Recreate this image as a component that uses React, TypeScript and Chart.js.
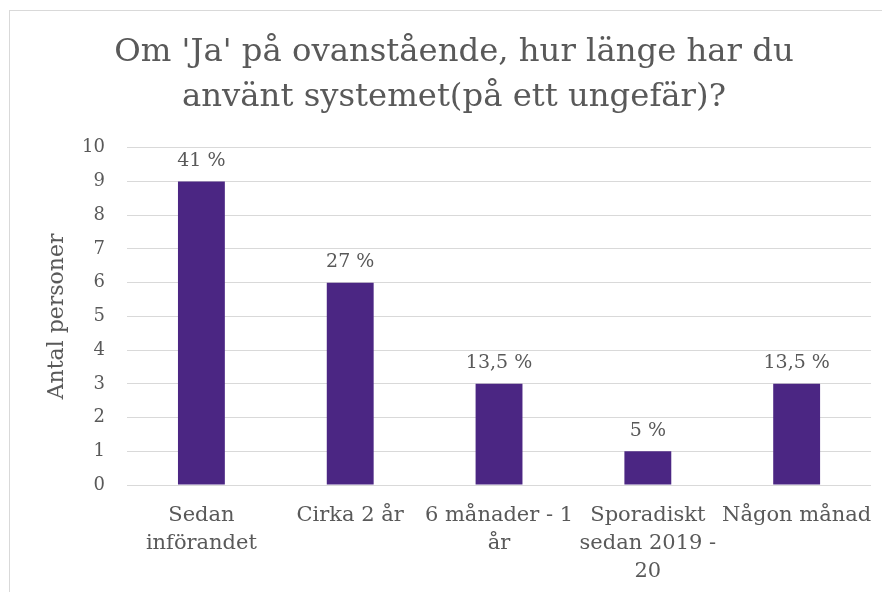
import React, { useEffect, useRef } from "react";
import { Chart, registerables } from "chart.js";

Chart.register(...registerables);

const categories: (string | string[])[] = [
  ["Sedan", "införandet"],
  "Cirka 2 år",
  ["6 månader - 1", "år"],
  ["Sporadiskt", "sedan 2019 -", "20"],
  "Någon månad",
];
const values = [9, 6, 3, 1, 3];
const percentLabels = ["41 %", "27 %", "13,5 %", "5 %", "13,5 %"];
const yTicks = [0, 1, 2, 3, 4, 5, 6, 7, 8, 9, 10];
const titleLines = ["Om 'Ja' på ovanstående, hur länge har du", "använt systemet(på ett ungefär)?"];
const yTitle = "Antal personer";

const FONT = "'DejaVu Serif', 'Liberation Serif', serif";
const TEXT = "#595959";
const BAR = "#4B2683";
const GRID = "#D9D9D9";

const labelPlugin = {
  id: "pctLabels",
  afterDatasetsDraw(chart: any) {
    const ctx = chart.ctx;
    const meta = chart.getDatasetMeta(0);
    ctx.save();
    ctx.fillStyle = TEXT;
    ctx.font = `19px ${FONT}`;
    ctx.textAlign = "center";
    ctx.textBaseline = "bottom";
    meta.data.forEach((el: any, i: number) => {
      ctx.fillText(percentLabels[i], el.x, el.y - 11);
    });
    ctx.restore();
  },
};

export default function App() {
  const ref = useRef<HTMLCanvasElement>(null);
  useEffect(() => {
    if (!ref.current) return;
    const chart = new Chart(ref.current, {
      type: "bar",
      data: {
        labels: categories,
        datasets: [
          {
            data: values,
            backgroundColor: BAR,
            categoryPercentage: 1,
            barPercentage: 0.315,
          },
        ],
      },
      options: {
        animation: false,
        responsive: false,
        maintainAspectRatio: false,
        layout: { padding: { left: 26, right: 18, top: 0, bottom: 0 } },
        plugins: {
          legend: { display: false },
          tooltip: { enabled: false },
          title: {
            display: true,
            text: titleLines,
            color: TEXT,
            font: { family: FONT, size: 32.3, weight: "normal", lineHeight: 1.39 },
            padding: { top: 19, bottom: 28 },
          },
        },
        scales: {
          x: {
            grid: { display: false, drawTicks: false },
            border: { display: false },
            ticks: {
              color: TEXT,
              font: { family: FONT, size: 21, lineHeight: 1.33 },
              padding: 17,
              maxRotation: 0,
              autoSkip: false,
            },
            afterFit(scale: any) {
              scale.height = 108;
            },
          },
          y: {
            min: 0,
            max: 10,
            afterBuildTicks(scale: any) {
              scale.ticks = yTicks.map((v) => ({ value: v }));
            },
            grid: { color: GRID, lineWidth: 1, drawTicks: false },
            border: { display: false },
            ticks: {
              color: TEXT,
              font: { family: FONT, size: 18 },
              padding: 22,
            },
            title: {
              display: true,
              text: yTitle,
              color: TEXT,
              font: { family: FONT, size: 22, lineHeight: 1.2 },
              padding: { top: 8, bottom: 0 },
            },
            afterFit(scale: any) {
              scale.width = 91;
            },
          },
        },
      },
      plugins: [labelPlugin],
    });
    return () => chart.destroy();
  }, []);
  return (
    <div
      style={{
        marginLeft: 1,
        marginTop: 2,
        width: 881,
        height: 582,
        borderLeft: `1px solid ${GRID}`,
        borderTop: `1px solid ${GRID}`,
        background: "#fff",
      }}
    >
      <canvas ref={ref} width={880} height={582} style={{ display: "block", width: 880, height: 582 }} />
    </div>
  );
}
